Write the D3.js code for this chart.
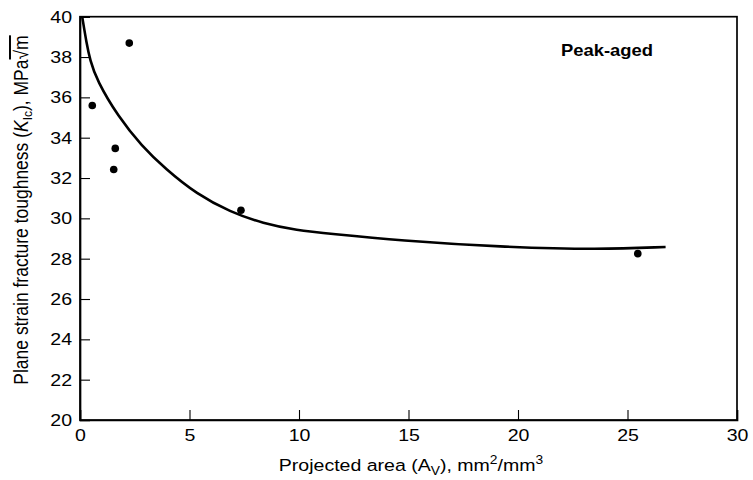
<!DOCTYPE html>
<html>
<head>
<meta charset="utf-8">
<script src="https://cdn.jsdelivr.net/npm/d3@7"></script>
<style>
  body { margin: 0; background: #fff; }
  svg { display: block; font-family: "Liberation Sans", Arial, sans-serif; }
</style>
</head>
<body>
<svg id="chart" width="753" height="480"></svg>
<script>
// Measured data points
const pointX = [0.56, 1.61, 1.54, 2.25, 7.35, 25.47];
const pointY = [35.6, 33.47, 32.42, 38.69, 30.4, 28.25];

// Fitted trend curve
const curveX = [0.1, 0.3, 0.46, 0.76, 1.75, 2.81, 3.9, 5.33, 6.85, 8.37, 9.9, 11.4, 14.6, 19.2, 23.74, 26.74];
const curveY = [40, 38.68, 37.85, 36.86, 35.03, 33.6, 32.45, 31.2, 30.32, 29.74, 29.41, 29.24, 28.9, 28.58, 28.45, 28.58];

const xTicks = [0, 5, 10, 15, 20, 25, 30];
const yTicks = [20, 22, 24, 26, 28, 30, 32, 34, 36, 38, 40];

const annotation = "Peak-aged";

const svg = d3.select("#chart");
const pLeft = 80, pRight = 737, pTop = 16.7, pBottom = 420;
const stretch = 1.15;   // the source lettering is slightly wide
const fs = 17;

const x = d3.scaleLinear().domain([0, 30]).range([pLeft, pRight]);
const y = d3.scaleLinear().domain([20, 40]).range([pBottom, pTop]);

// frame
svg.append("rect")
  .attr("x", pLeft).attr("y", pTop)
  .attr("width", pRight - pLeft).attr("height", pBottom - pTop)
  .attr("fill", "none").attr("stroke", "#000").attr("stroke-width", 1.7);

const xAxis = svg.append("g")
  .attr("transform", `translate(0,${pBottom})`)
  .call(d3.axisBottom(x).tickValues(xTicks).tickSize(-10).tickPadding(9).tickFormat(d3.format("d")));
const yAxis = svg.append("g")
  .attr("transform", `translate(${pLeft},0)`)
  .call(d3.axisLeft(y).tickValues(yTicks).tickSize(-10).tickPadding(8).tickFormat(d3.format("d")));

[xAxis, yAxis].forEach(g => {
  g.select(".domain").attr("stroke", "#000").attr("stroke-width", 1.7);
  g.selectAll(".tick line").attr("stroke", "#000").attr("stroke-width", 1.1);
  g.selectAll(".tick text").attr("fill", "#000").style("font-size", fs + "px")
    .style("font-family", "'Liberation Sans', Arial, sans-serif");
});
xAxis.selectAll(".tick").filter(d => d === 0 || d === 30).select("line").remove();
yAxis.selectAll(".tick").filter(d => d === 20 || d === 40).select("line").remove();
xAxis.selectAll(".tick text").attr("transform", `scale(${stretch},1)`);
yAxis.selectAll(".tick text").attr("x", 0).attr("transform", `translate(-8,0) scale(${stretch},1)`);

// curve
const curveData = curveX.map((d, i) => [d, curveY[i]]);
svg.append("path")
  .datum(curveData)
  .attr("fill", "none")
  .attr("stroke", "#000")
  .attr("stroke-width", 2.6)
  .attr("d", d3.line().x(d => x(d[0])).y(d => y(d[1])).curve(d3.curveBasis));

// points
svg.append("g").selectAll("circle")
  .data(pointX.map((d, i) => [d, pointY[i]]))
  .join("circle")
  .attr("cx", d => x(d[0])).attr("cy", d => y(d[1]))
  .attr("r", 3.8).attr("fill", "#000");

// annotation
svg.append("text")
  .attr("transform", `translate(607,56) scale(${stretch},1)`)
  .attr("text-anchor", "middle")
  .style("font-size", "16px").style("font-weight", "bold")
  .text(annotation);

// x label
const xl = svg.append("text")
  .attr("transform", `translate(411,471) scale(${stretch},1)`)
  .attr("text-anchor", "middle")
  .style("font-size", fs + "px");
xl.append("tspan").text("Projected area (A");
xl.append("tspan").attr("dy", 4).style("font-size", "12px").text("V");
xl.append("tspan").attr("dy", -4).text("), mm");
xl.append("tspan").attr("dy", -7).style("font-size", "12px").text("2");
xl.append("tspan").attr("dy", 7).text("/mm");
xl.append("tspan").attr("dy", -7).style("font-size", "12px").text("3");

// y label
const yl = svg.append("text")
  .attr("transform", "translate(28,210) rotate(-90) scale(1,1.12)")
  .attr("text-anchor", "middle")
  .style("font-size", "17.5px");
yl.append("tspan").text("Plane strain fracture toughness (");
yl.append("tspan").style("font-style", "italic").text("K");
yl.append("tspan").attr("dy", 4).style("font-size", "12px").text("Ic");
yl.append("tspan").attr("dy", -4).text("), MPa");
yl.append("tspan").style("text-decoration", "overline").text("√m");
</script>
</body>
</html>
